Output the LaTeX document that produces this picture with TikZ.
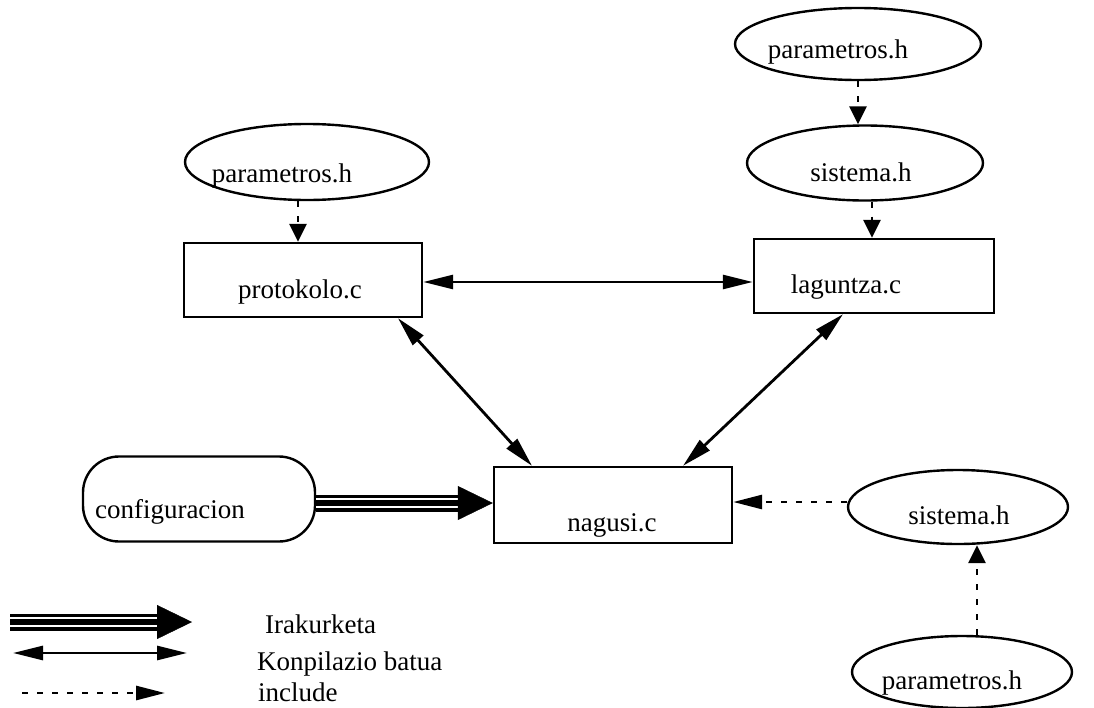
\documentclass[tikz,border=0pt]{standalone}
\usepackage{fontspec}
\setmainfont{Liberation Serif}
\usetikzlibrary{arrows.meta,shapes.geometric}
\begin{document}
\begin{tikzpicture}[x=1pt,y=-1pt,
  every node/.style={font=\fontsize{27pt}{31pt}\selectfont},
  ell/.style={draw, line width=2.4pt, ellipse, inner sep=0pt},
  box/.style={draw, line width=2.4pt, rectangle, inner sep=0pt},
  tl/.style={anchor=base, inner sep=0pt},
  both/.style={line width=2.8pt, {Triangle[length=30pt,width=14pt]}-{Triangle[length=30pt,width=14pt]}},
  inc/.style={line width=2.8pt, dash pattern=on 6pt off 9pt, -{Triangle[length=18pt,width=17pt]}},
  inch/.style={line width=2.8pt, dash pattern=on 6pt off 9pt, -{Triangle[length=29pt,width=14pt]}},
  read/.style={
    preaction={draw, line width=17pt, shorten >=33pt},
    postaction={draw=white, line width=10pt, shorten >=32pt},
    postaction={draw, line width=6pt, shorten >=33pt},
    postaction={draw, line width=0.4pt, -{Triangle[length=35pt,width=34pt]}}}
]
\fill[white] (0,0) rectangle (1094,707);
\useasboundingbox (0,0) rectangle (1094,707);

% nodes
\node[ell, minimum width=246pt, minimum height=72pt,
  label={[tl,xshift=-20pt,yshift=-8pt]center:parametros.h}] (pTR) at (858,44) {};
\node[ell, minimum width=236pt, minimum height=75pt,
  label={[tl,xshift=-4pt,yshift=-9pt]center:sistema.h}] (sTR) at (865,163) {};
\node[ell, minimum width=244pt, minimum height=76pt,
  label={[tl,xshift=-25pt,yshift=-14pt]center:parametros.h}] (pL) at (307,162) {};
\node[box, minimum width=238pt, minimum height=74pt,
  label={[tl,xshift=-3pt,yshift=-12pt]center:protokolo.c}] (proto) at (303,280) {};
\node[box, minimum width=240pt, minimum height=74pt,
  label={[tl,xshift=-28pt,yshift=-11pt]center:laguntza.c}] (lag) at (874,276) {};
\node[box, minimum width=238pt, minimum height=76pt,
  label={[tl,xshift=-1pt,yshift=-20pt]center:nagusi.c}] (nag) at (613,505) {};
\node[box, rounded corners=36pt, minimum width=232pt, minimum height=85pt,
  label={[tl,xshift=-29pt,yshift=-13pt]center:configuracion}] (conf) at (199,499) {};
\node[ell, minimum width=220pt, minimum height=74pt,
  label={[tl,xshift=1pt,yshift=-8pt]center:sistema.h}] (sBR) at (958,507) {};
\node[ell, minimum width=220pt, minimum height=72pt,
  label={[tl,xshift=-10pt,yshift=-11pt]center:parametros.h}] (pBR) at (962,672) {};

% connectors
\draw[inc] (pTR.south) -- (pTR.south |- sTR.north);
\draw[inc] ([xshift=7pt]sTR.south) -- ([xshift=7pt]sTR.south |- lag.north);
\draw[inc] ([xshift=-9pt]pL.south) -- ([xshift=-9pt]pL.south |- proto.north);
\draw[both] ([yshift=-2pt]proto.east) -- ([yshift=-2pt]proto.east -| lag.west);
\draw[both] ([xshift=95pt]proto.south) -- ([xshift=-81pt]nag.north);
\draw[both] ([xshift=-31pt]lag.south) -- ([xshift=70pt]nag.north);
\path[read] ([yshift=-4pt]conf.east) -- ([yshift=-4pt]conf.east -| nag.west);
\draw[inch] ([yshift=5pt]sBR.west) -- ([yshift=5pt]sBR.west -| nag.east);
\draw[inc] ([xshift=15pt]pBR.north) -- ([xshift=15pt]pBR.north |- sBR.south);

% legend
\coordinate (l1a) at (10,622);
\coordinate (l1b) at (192,622);
\coordinate (l2a) at (13,653);
\coordinate (l2b) at (187,653);
\coordinate (l3a) at (22,693);
\coordinate (l3b) at (165,693);
\path[read] (l1a) -- (l1b);
\draw[both] (l2a) -- (l2b);
\draw[inch] (l3a) -- (l3b);
\node[anchor=base west, inner sep=0pt] (t1) at (265,633) {Irakurketa};
\node[anchor=base west, inner sep=0pt] (t2) at (257,670) {Konpilazio batua};
\node[anchor=base west, inner sep=0pt] (t3) at (258,701) {include};
\end{tikzpicture}
\end{document}
